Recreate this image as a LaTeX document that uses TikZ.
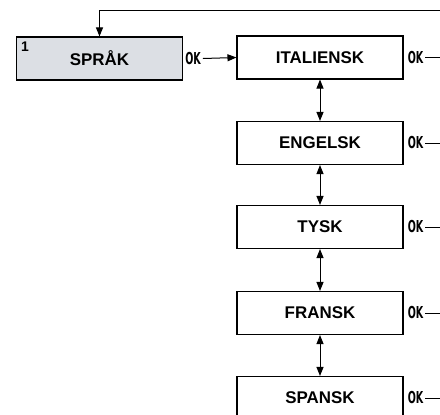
\documentclass[tikz,border=0pt]{standalone}
\usepackage{fontspec}
\setmainfont{Liberation Sans}
\newfontfamily\okFont{DejaVu Sans}
\usetikzlibrary{arrows.meta,positioning}
\definecolor{menuGray}{HTML}{DCDFE4}
\tikzset{
  langbox/.style={draw, line width=1.1bp, inner sep=0pt, minimum width=166bp,
    minimum height=43bp, font=\fontsize{17}{20}\selectfont\bfseries},
  okmark/.style={inner sep=0pt, font=\okFont\fontsize{16.5}{20}\selectfont\bfseries},
  conn/.style={line width=1bp},
  tip/.style={-{Triangle[length=9bp,width=7bp]}},
  twotip/.style={{Triangle[length=9bp,width=7bp]}-{Triangle[length=9bp,width=7bp]}}
}
\newcommand{\okText}{\scalebox{0.58}[1]{OK}}

\begin{document}
\begin{tikzpicture}[x=1bp, y=-1bp]
  \useasboundingbox (0,0) rectangle (440,414);
  \clip (0,0) rectangle (440,414);
  % menu entry
  \node[langbox, fill=menuGray] (sprak) at (99.5,58.5) {SPRÅK};
  \node[anchor=north west, inner sep=0pt, font=\fontsize{14}{16}\selectfont\bfseries]
    (sprakNr) at ([shift={(5bp,-5bp)}]sprak.north west) {1};
  \node[okmark, right=2bp of sprak] (okSprak) {\okText};
  % languages
  \node[langbox] (ital) at (320,57.5) {ITALIENSK};
  \node[langbox] (eng) at (320,143) {ENGELSK};
  \node[langbox] (tysk) at (320,227) {TYSK};
  \node[langbox] (fransk) at (320,313) {FRANSK};
  \node[langbox] (spansk) at (320,398) {SPANSK};
  % ok marks
  \node[okmark, right=4bp of ital] (okItal) {\okText};
  \node[okmark, right=4bp of eng] (okEng) {\okText};
  \node[okmark, right=4bp of tysk] (okTysk) {\okText};
  \node[okmark, right=4bp of fransk] (okFransk) {\okText};
  \node[okmark, right=4bp of spansk] (okSpansk) {\okText};
  \coordinate (backTop) at (440,10);
  % connectors
  \draw[conn, tip] (backTop) -| (sprak.north);
  \draw[conn, tip] ([xshift=2bp]okSprak.east) -- (ital.west);
  \draw[conn, twotip] (ital) -- (eng);
  \draw[conn, twotip] (eng) -- (tysk);
  \draw[conn, twotip] (tysk) -- (fransk);
  \draw[conn, twotip] (fransk) -- (spansk);
  \draw[conn] ([xshift=2bp]okItal.east) -- (okItal.east -| backTop);
  \draw[conn] ([xshift=2bp]okEng.east) -- (okEng.east -| backTop);
  \draw[conn] ([xshift=2bp]okTysk.east) -- (okTysk.east -| backTop);
  \draw[conn] ([xshift=2bp]okFransk.east) -- (okFransk.east -| backTop);
  \draw[conn] ([xshift=2bp]okSpansk.east) -- (okSpansk.east -| backTop);
\end{tikzpicture}
\end{document}
